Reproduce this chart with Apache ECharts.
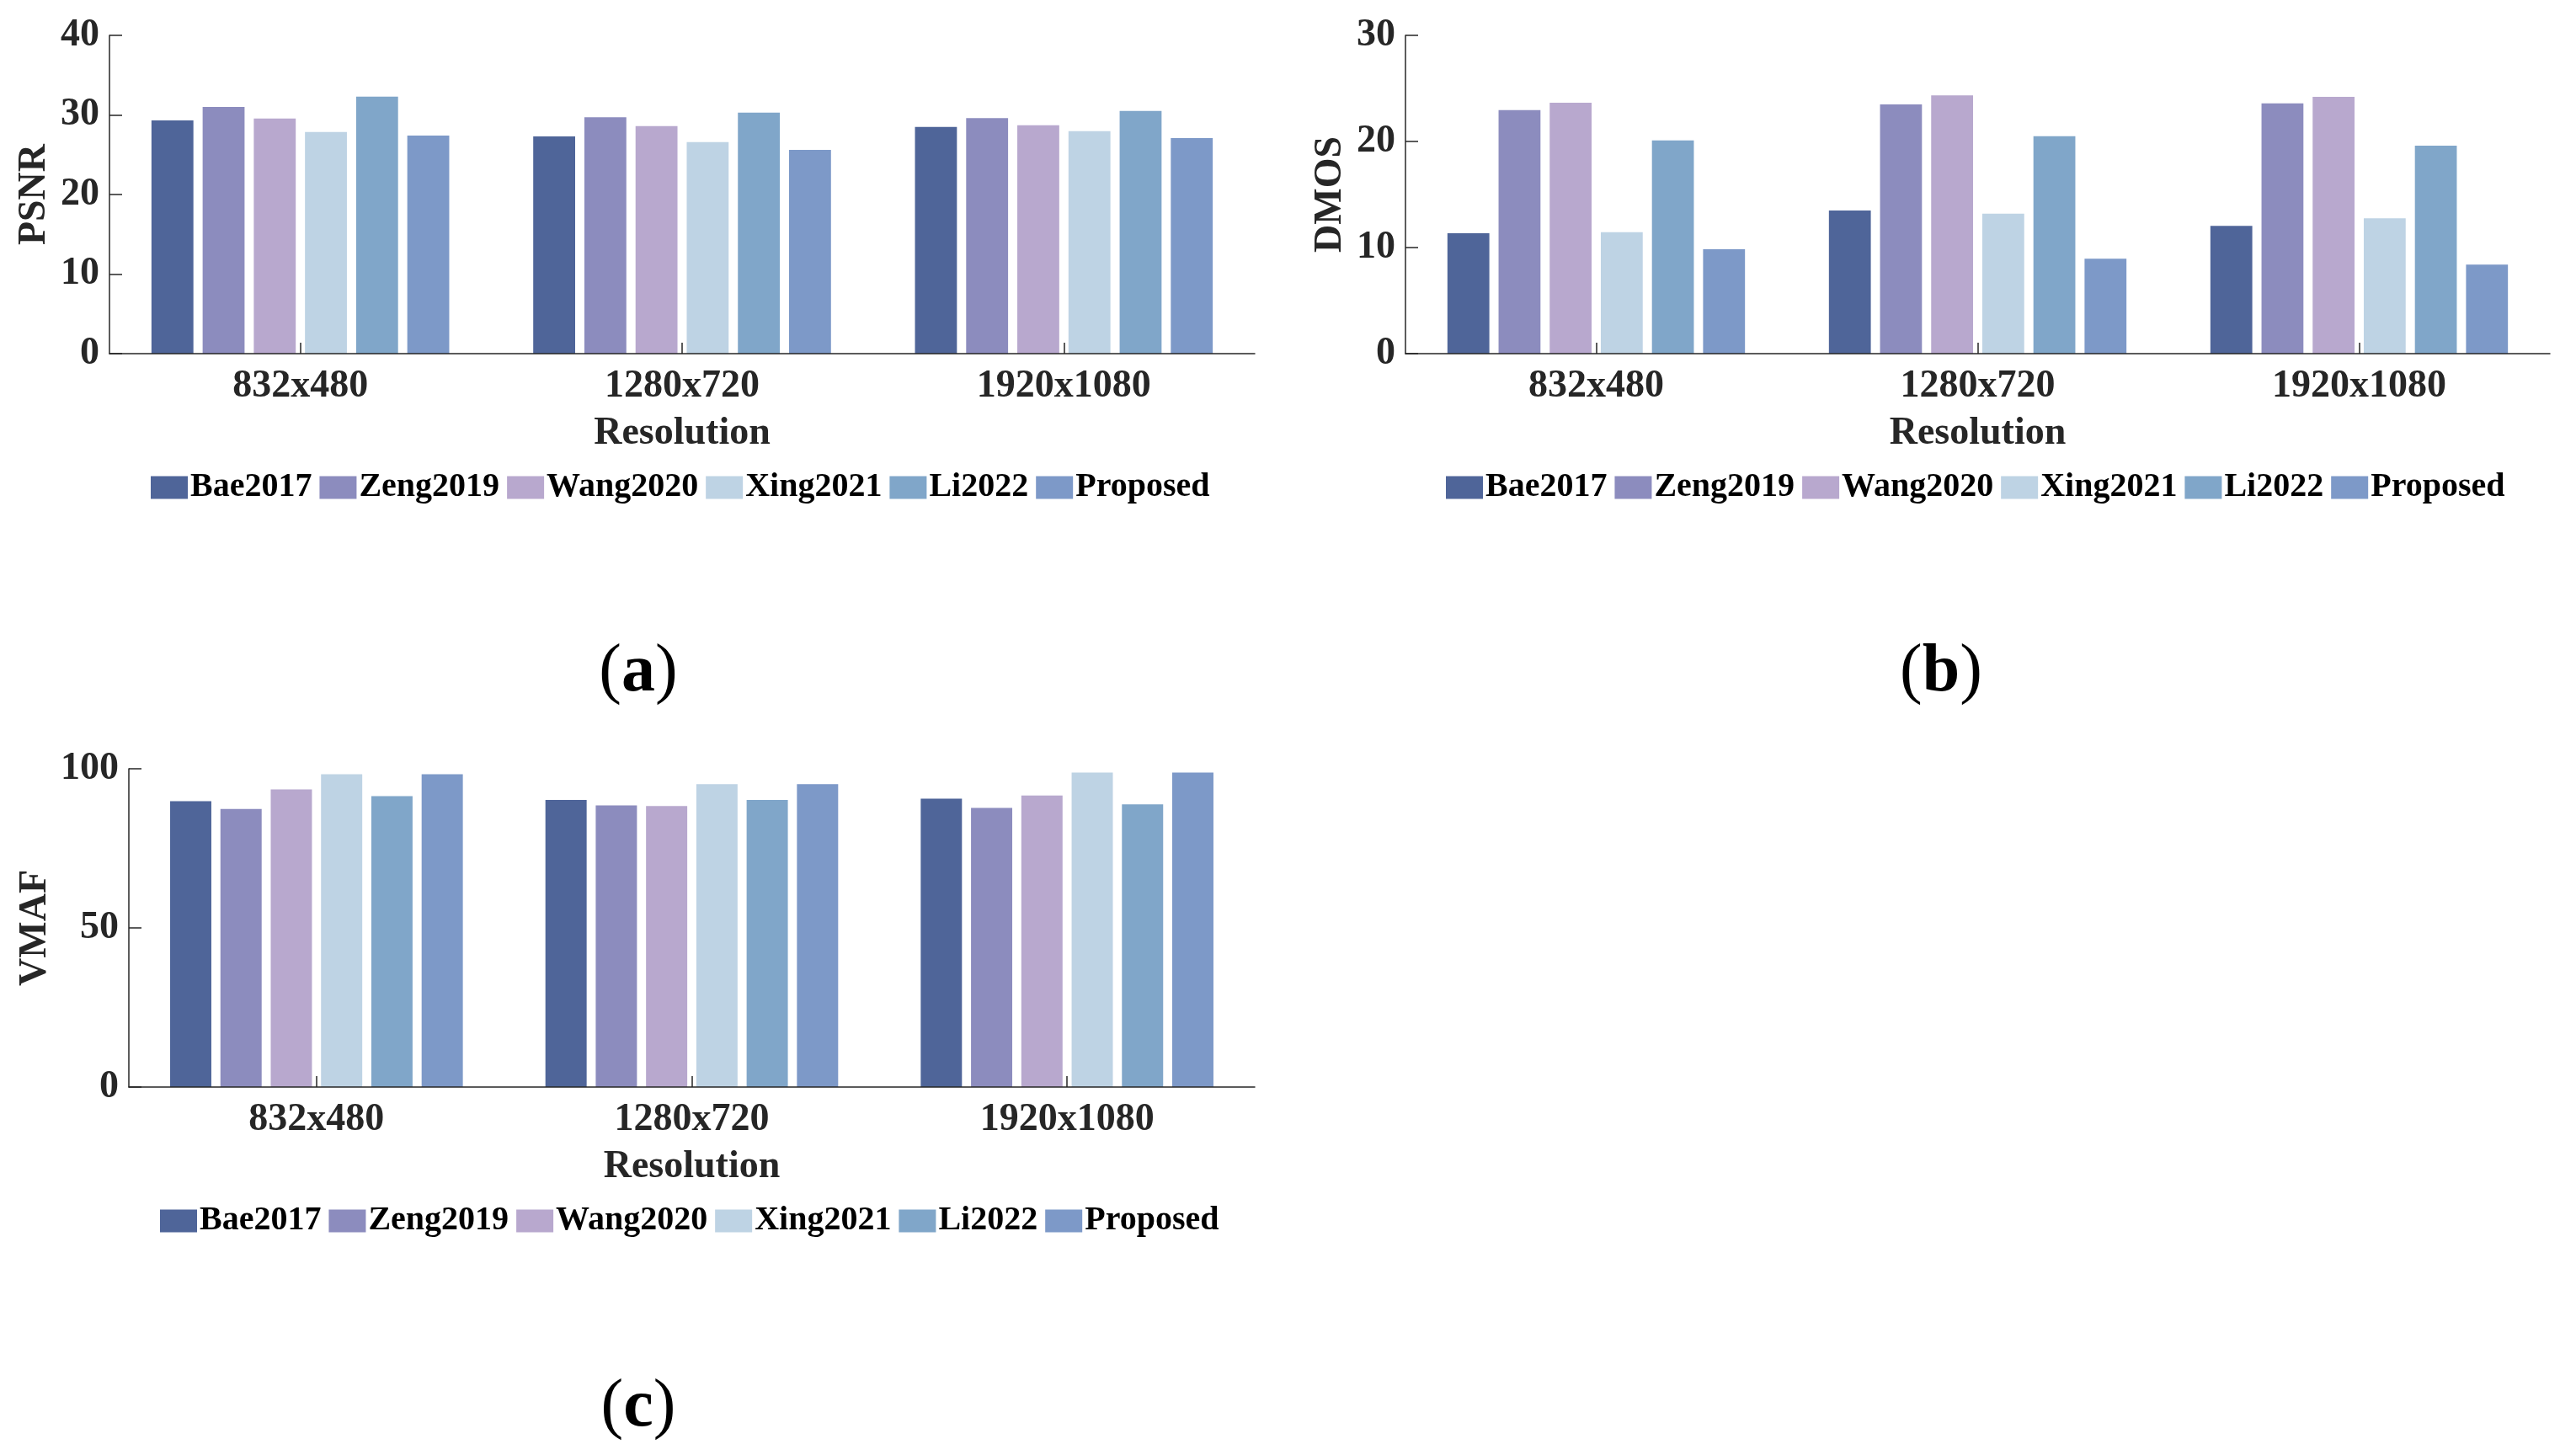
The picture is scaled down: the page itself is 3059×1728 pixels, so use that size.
<!DOCTYPE html>
<html>
<head>
<meta charset="utf-8">
<script src="https://cdn.jsdelivr.net/npm/echarts@6/dist/echarts.min.js"></script>
<style>
html,body{margin:0;padding:0;background:#fff;}
#chart{width:3059px;height:1728px;}
</style>
</head>
<body>
<div id="chart"></div>
<script>
// ---- data ----
var categories = ['832x480', '1280x720', '1920x1080'];
var methods = ['Bae2017', 'Zeng2019', 'Wang2020', 'Xing2021', 'Li2022', 'Proposed'];
var colors = ['#4F6599', '#8C8CBE', '#B8A8CE', '#BED3E4', '#80A6C9', '#7D99C8'];
// rows follow methods, columns follow categories
var psnrValues = [
  [29.3, 27.3, 28.5],
  [31.0, 29.7, 29.6],
  [29.55, 28.6, 28.7],
  [27.85, 26.6, 27.95],
  [32.3, 30.3, 30.5],
  [27.4, 25.6, 27.1]
];
var dmosValues = [
  [11.35, 13.5, 12.05],
  [22.95, 23.5, 23.6],
  [23.65, 24.35, 24.2],
  [11.45, 13.2, 12.75],
  [20.1, 20.5, 19.6],
  [9.85, 8.95, 8.4]
];
var vmafValues = [
  [89.8, 90.2, 90.6],
  [87.4, 88.5, 87.7],
  [93.5, 88.3, 91.6],
  [98.3, 95.2, 98.8],
  [91.4, 90.2, 88.8],
  [98.3, 95.2, 98.8]
];
var yNames = ['PSNR', 'DMOS', 'VMAF'];
var yMax = [40, 30, 100];
var yInterval = [10, 10, 50];
var xName = 'Resolution';
var captions = ['a', 'b', 'c'];

// ---- layout ----
var FONT = '"Liberation Serif", "Times New Roman", serif';
var TXT = '#262626';
var grids = [
  {left: 130, top: 42, width: 1360, height: 378},
  {left: 1669, top: 42, width: 1359, height: 378},
  {left: 153, top: 913, width: 1337, height: 378}
];
var yNameGap = [66, 66, 88];
var legendLeft = [174, 1712, 185];
var captionPos = [[753, 754], [2300, 754], [753, 1627]];
var allValues = [psnrValues, dmosValues, vmafValues];

var option = {
  backgroundColor: '#fff',
  animation: false,
  grid: [], xAxis: [], yAxis: [], series: [], legend: [], title: []
};

for (var p = 0; p < 3; p++) {
  var g = grids[p];
  option.grid.push({left: g.left, top: g.top, width: g.width, height: g.height, containLabel: false});
  option.xAxis.push({
    type: 'category', gridIndex: p, data: categories,
    name: xName, nameLocation: 'middle', nameGap: 72,
    nameTextStyle: {fontFamily: FONT, fontWeight: 'bold', fontSize: 46, color: TXT},
    axisLine: {lineStyle: {color: TXT, width: 1.5}},
    axisTick: {show: true, inside: true, length: 13, alignWithLabel: true, lineStyle: {color: TXT, width: 1.5}},
    axisLabel: {fontFamily: FONT, fontWeight: 'bold', fontSize: 46, color: TXT, margin: 16},
    splitLine: {show: false},
    z: 5
  });
  option.yAxis.push({
    type: 'value', gridIndex: p, min: 0, max: yMax[p], interval: yInterval[p],
    name: yNames[p], nameLocation: 'middle', nameRotate: 90, nameGap: yNameGap[p],
    nameTextStyle: {fontFamily: FONT, fontWeight: 'bold', fontSize: 46, color: TXT},
    axisLine: {show: true, lineStyle: {color: TXT, width: 1.5}},
    axisTick: {show: true, inside: true, length: 15, lineStyle: {color: TXT, width: 1.5}},
    axisLabel: {fontFamily: FONT, fontWeight: 'bold', fontSize: 46, color: TXT, margin: 12},
    splitLine: {show: false}
  });
  for (var m = 0; m < methods.length; m++) {
    option.series.push({
      type: 'bar', name: methods[m], xAxisIndex: p, yAxisIndex: p,
      data: allValues[p][m],
      itemStyle: {color: colors[m]},
      barGap: '22%', barCategoryGap: '22%'
    });
  }
  option.legend.push({
    data: methods, left: legendLeft[p], top: g.top + g.height + 134,
    orient: 'horizontal', itemWidth: 44, itemHeight: 27, itemGap: 9,
    icon: 'rect', selectedMode: false,
    textStyle: {fontFamily: FONT, fontWeight: 'bold', fontSize: 40, color: '#000', padding: [0, 0, 0, -2]}
  });
  option.title.push({
    text: '{p|(}{b|' + captions[p] + '}{p|)}',
    left: captionPos[p][0], top: captionPos[p][1], textAlign: 'center',
    textStyle: {
      rich: {
        p: {fontFamily: FONT, fontSize: 80, color: '#000', fontWeight: 'normal'},
        b: {fontFamily: FONT, fontSize: 80, color: '#000', fontWeight: 'bold'}
      }
    }
  });
}

var chart = echarts.init(document.getElementById('chart'));
chart.setOption(option);
</script>
</body>
</html>
